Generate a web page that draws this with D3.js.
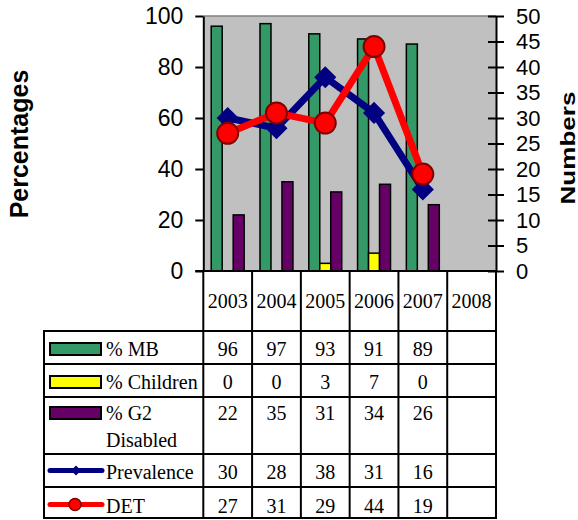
<!DOCTYPE html>
<html>
<head>
<meta charset="utf-8">
<script src="https://cdn.jsdelivr.net/npm/d3@7/dist/d3.min.js"></script>
<style>
  html, body { margin: 0; padding: 0; background: #fff; }
  svg { display: block; }
</style>
</head>
<body>
<svg id="chart" width="578" height="520"></svg>
<script>
// Categories and series
const years = ["2003", "2004", "2005", "2006", "2007", "2008"];
const mbPct = [96, 97, 93, 91, 89, null];
const childrenPct = [0, 0, 3, 7, 0, null];
const g2DisabledPct = [22, 35, 31, 34, 26, null];
const prevalence = [30, 28, 38, 31, 16, null];
const det = [27, 31, 29, 44, 19, null];

// Axis ticks
const leftTicks = [0, 20, 40, 60, 80, 100];
const rightTicks = [0, 5, 10, 15, 20, 25, 30, 35, 40, 45, 50];

const sans = "'Liberation Sans', Arial, sans-serif";
const serif = "'Liberation Serif', 'Times New Roman', serif";

const svg = d3.select("#chart");

// Plot frame
const plotLeft = 203.3, plotRight = 496, plotTop = 16, plotBottom = 271;
const tableLeft = 44;
const headerBottom = 331;

const x = d3.scaleBand().domain(years).range([plotLeft, plotRight]);
const barKeys = ["mb", "children", "g2"];
const xInner = d3.scaleBand().domain(barKeys).range([0, x.bandwidth()]).paddingOuter(0.72);
const yL = d3.scaleLinear().domain([0, 100]).range([plotBottom, plotTop]);
const yR = d3.scaleLinear().domain([0, 50]).range([plotBottom, plotTop]);

const barColors = { mb: "#339966", children: "#FFFF00", g2: "#660066" };
const barSeries = { mb: mbPct, children: childrenPct, g2: g2DisabledPct };

// Plot background
svg.append("rect")
  .attr("x", plotLeft).attr("y", plotTop)
  .attr("width", plotRight - plotLeft).attr("height", plotBottom - plotTop)
  .attr("fill", "#C0C0C0");
svg.append("line")
  .attr("x1", plotLeft).attr("x2", plotRight)
  .attr("y1", plotTop).attr("y2", plotTop)
  .attr("stroke", "#808080").attr("stroke-width", 1.5);

// Bars
const groups = svg.append("g").selectAll("g")
  .data(years)
  .join("g")
  .attr("transform", d => `translate(${x(d)},0)`);

groups.selectAll("rect")
  .data((yr, i) => barKeys
    .map(k => ({ key: k, value: barSeries[k][i] }))
    .filter(d => d.value != null && d.value > 0))
  .join("rect")
  .attr("x", d => xInner(d.key))
  .attr("width", xInner.bandwidth())
  .attr("y", d => yL(d.value))
  .attr("height", d => yL(0) - yL(d.value))
  .attr("fill", d => barColors[d.key])
  .attr("stroke", "#000")
  .attr("stroke-width", 1.5);

// Line series on the right axis
const cx = d => x(d) + x.bandwidth() / 2;
const lineGen = d3.line()
  .defined(d => d.v != null)
  .x(d => cx(d.yr))
  .y(d => yR(d.v));

const prevData = years.map((yr, i) => ({ yr, v: prevalence[i] }));
const detData = years.map((yr, i) => ({ yr, v: det[i] }));

svg.append("path")
  .datum(prevData)
  .attr("d", lineGen)
  .attr("fill", "none")
  .attr("stroke", "#000080")
  .attr("stroke-width", 7)
  .attr("stroke-linejoin", "round");

svg.append("g").selectAll("path")
  .data(prevData.filter(d => d.v != null))
  .join("path")
  .attr("d", d3.symbol(d3.symbolSquare, 245))
  .attr("transform", d => `translate(${cx(d.yr)},${yR(d.v)}) rotate(45)`)
  .attr("fill", "#000080");

svg.append("path")
  .datum(detData)
  .attr("d", lineGen)
  .attr("fill", "none")
  .attr("stroke", "#FF0000")
  .attr("stroke-width", 7)
  .attr("stroke-linejoin", "round");

svg.append("g").selectAll("circle")
  .data(detData.filter(d => d.v != null))
  .join("circle")
  .attr("cx", d => cx(d.yr))
  .attr("cy", d => yR(d.v))
  .attr("r", 10.5)
  .attr("fill", "#FF0000")
  .attr("stroke", "#800000")
  .attr("stroke-width", 2);

// Left axis
const leftAxis = svg.append("g")
  .attr("transform", `translate(${plotLeft},0)`)
  .call(d3.axisLeft(yL).tickValues(leftTicks).tickSize(8).tickPadding(12).tickSizeOuter(0));
leftAxis.select(".domain").attr("stroke", "#000").attr("stroke-width", 2);
leftAxis.selectAll(".tick line").attr("stroke", "#000").attr("stroke-width", 2);
leftAxis.selectAll(".tick text")
  .attr("font-family", sans).attr("font-size", 23).attr("fill", "#000");

// Right axis (ticks cross the axis line)
const rightAxis = svg.append("g")
  .attr("transform", `translate(${plotRight},0)`)
  .call(d3.axisRight(yR).tickValues(rightTicks).tickSize(8).tickSizeOuter(0));
rightAxis.select(".domain").attr("stroke", "#000").attr("stroke-width", 2);
rightAxis.selectAll(".tick line")
  .attr("x1", -8).attr("x2", 8)
  .attr("stroke", "#000").attr("stroke-width", 2);
rightAxis.selectAll(".tick text")
  .attr("x", 20)
  .attr("font-family", sans).attr("font-size", 22).attr("fill", "#000");

// Category axis line
svg.append("line")
  .attr("x1", plotLeft - 8).attr("x2", plotRight)
  .attr("y1", plotBottom).attr("y2", plotBottom)
  .attr("stroke", "#000").attr("stroke-width", 2);

// Axis titles
svg.append("text")
  .attr("transform", `translate(28,144) rotate(-90)`)
  .attr("text-anchor", "middle")
  .attr("font-family", sans).attr("font-size", 25).attr("font-weight", "bold")
  .text("Percentages");

svg.append("text")
  .attr("transform", `translate(575,148) rotate(-90)`)
  .attr("text-anchor", "middle")
  .attr("font-family", sans).attr("font-size", 21).attr("font-weight", "bold")
  .attr("textLength", 113).attr("lengthAdjust", "spacingAndGlyphs")
  .text("Numbers");

// Data table
const rowEdges = [331, 364, 397, 454, 487, 518];
const rows = [
  { lines: ["% MB"], values: mbPct, kind: "bar", color: barColors.mb },
  { lines: ["% Children"], values: childrenPct, kind: "bar", color: barColors.children },
  { lines: ["% G2", "Disabled"], values: g2DisabledPct, kind: "bar", color: barColors.g2 },
  { lines: ["Prevalence"], values: prevalence, kind: "diamond", color: "#000080" },
  { lines: ["DET"], values: det, kind: "circle", color: "#FF0000" }
];

const tbl = svg.append("g");

// Year header
tbl.selectAll("text.year")
  .data(years)
  .join("text")
  .attr("class", "year")
  .attr("x", d => cx(d))
  .attr("y", 308)
  .attr("text-anchor", "middle")
  .attr("font-family", serif).attr("font-size", 20)
  .text(d => d);

// Grid lines
const boundaries = years.map(d => x(d)).concat([plotRight]);
tbl.selectAll("line.v")
  .data(boundaries)
  .join("line")
  .attr("x1", d => d).attr("x2", d => d)
  .attr("y1", plotBottom).attr("y2", rowEdges[rowEdges.length - 1])
  .attr("stroke", "#000").attr("stroke-width", 2);
tbl.selectAll("line.h")
  .data(rowEdges)
  .join("line")
  .attr("x1", tableLeft - 1).attr("x2", plotRight + 1)
  .attr("y1", d => d).attr("y2", d => d)
  .attr("stroke", "#000").attr("stroke-width", 2);
tbl.append("line")
  .attr("x1", tableLeft).attr("x2", tableLeft)
  .attr("y1", rowEdges[0]).attr("y2", rowEdges[rowEdges.length - 1])
  .attr("stroke", "#000").attr("stroke-width", 2);

// Rows: legend key, label and values
const baselineOffset = [25, 25, 23, 25, 26];
rows.forEach((row, r) => {
  const top = rowEdges[r];
  const base = top + baselineOffset[r];
  const g = tbl.append("g");

  if (row.kind === "bar") {
    g.append("rect")
      .attr("x", 50).attr("y", base - 13)
      .attr("width", 51).attr("height", 12)
      .attr("fill", row.color).attr("stroke", "#000").attr("stroke-width", 2);
  } else {
    const ly = base - 8.5;
    g.append("line")
      .attr("x1", 50).attr("x2", 102)
      .attr("y1", ly).attr("y2", ly)
      .attr("stroke", row.color).attr("stroke-width", 5)
      .attr("stroke-linecap", "round");
    if (row.kind === "diamond") {
      g.append("path")
        .attr("d", d3.symbol(d3.symbolSquare, 50))
        .attr("transform", `translate(76,${ly}) rotate(45)`)
        .attr("fill", row.color);
    } else {
      g.append("circle")
        .attr("cx", 75).attr("cy", ly).attr("r", 6)
        .attr("fill", row.color).attr("stroke", "#800000").attr("stroke-width", 1.5);
    }
  }

  g.selectAll("text.label")
    .data(row.lines)
    .join("text")
    .attr("class", "label")
    .attr("x", 106)
    .attr("y", (d, i) => base + i * 27)
    .attr("font-family", serif).attr("font-size", 20)
    .text(d => d);

  g.selectAll("text.val")
    .data(years.map((yr, i) => ({ yr, v: row.values[i] })).filter(d => d.v != null))
    .join("text")
    .attr("class", "val")
    .attr("x", d => cx(d.yr))
    .attr("y", base)
    .attr("text-anchor", "middle")
    .attr("font-family", serif).attr("font-size", 20)
    .text(d => d.v);
});
</script>
</body>
</html>
